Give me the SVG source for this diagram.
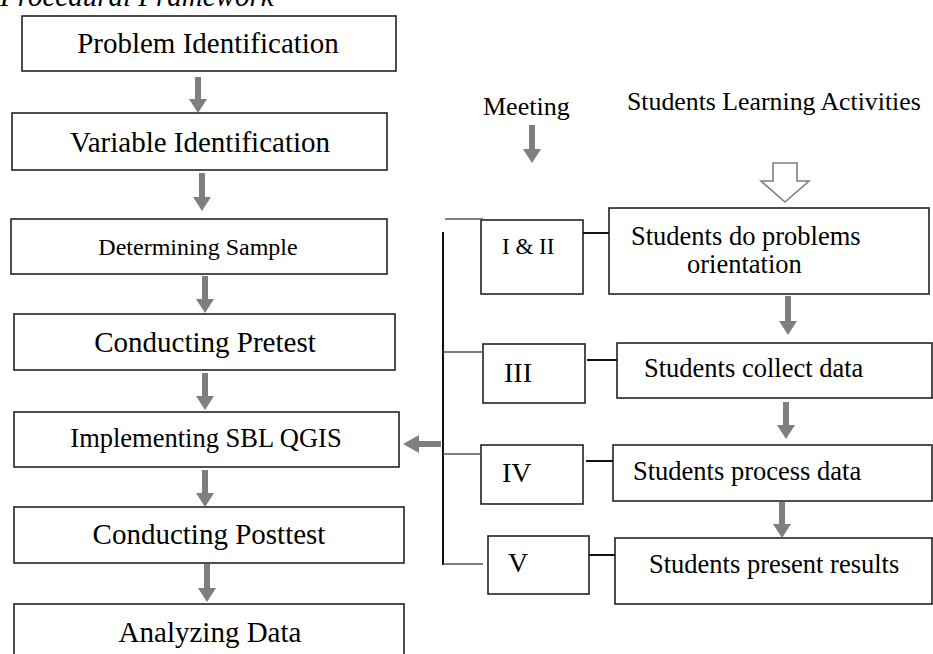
<svg xmlns="http://www.w3.org/2000/svg" width="933" height="654" viewBox="0 0 933 654">
  <style>
    text { font-family: "Liberation Serif", "Times New Roman", serif; fill: #000; }
    .box { fill: #fff; stroke: #222; stroke-width: 1.6; }
    .arrow { fill: #7f7f7f; stroke: none; }
    .hollow { fill: #fff; stroke: #7f7f7f; stroke-width: 1.6; }
    .line { stroke: #111; stroke-width: 2; fill: none; }
    .branch { stroke: #555; stroke-width: 1.4; fill: none; }
    .big { font-size: 29px; }
    .mid { font-size: 26.5px; }
    .sm { font-size: 24px; }
  </style>
  <rect width="933" height="654" fill="#fff"/>

  <!-- title, clipped at the top edge -->
  <text x="0" y="6" font-size="29" font-style="italic">Procedural Framework</text>

  <!-- procedure steps -->
  <g id="step-problem">
    <rect class="box" x="22" y="16" width="374" height="55"/>
    <text class="big" x="208" y="53" text-anchor="middle">Problem Identification</text>
  </g>
  <g id="step-variable">
    <rect class="box" x="12" y="113" width="375" height="57"/>
    <text class="big" x="200" y="152" text-anchor="middle">Variable Identification</text>
  </g>
  <g id="step-sample">
    <rect class="box" x="11" y="219" width="376" height="55"/>
    <text class="sm" x="198" y="255" text-anchor="middle">Determining Sample</text>
  </g>
  <g id="step-pretest">
    <rect class="box" x="14" y="314" width="381" height="56"/>
    <text class="big" x="205" y="352" text-anchor="middle">Conducting Pretest</text>
  </g>
  <g id="step-implement">
    <rect class="box" x="14" y="412" width="385" height="55"/>
    <text class="mid" x="206" y="447" text-anchor="middle">Implementing SBL QGIS</text>
  </g>
  <g id="step-posttest">
    <rect class="box" x="14" y="507" width="390" height="56"/>
    <text class="big" x="209" y="544" text-anchor="middle">Conducting Posttest</text>
  </g>
  <g id="step-analyze">
    <rect class="box" x="14" y="604" width="390" height="60"/>
    <text class="big" x="210" y="642" text-anchor="middle">Analyzing Data</text>
  </g>

  <!-- column headings -->
  <text x="483" y="115" font-size="26">Meeting</text>
  <text x="627" y="110" font-size="25.8">Students Learning Activities</text>

  <!-- meetings -->
  <g id="meeting-1-2">
    <rect class="box" x="481" y="220" width="102" height="74"/>
    <text x="502" y="254" font-size="23">I &amp; II</text>
  </g>
  <g id="meeting-3">
    <rect class="box" x="483" y="344" width="102" height="59"/>
    <text x="504" y="382" font-size="28">III</text>
  </g>
  <g id="meeting-4">
    <rect class="box" x="481" y="445" width="102" height="59"/>
    <text x="502" y="482" font-size="28">IV</text>
  </g>
  <g id="meeting-5">
    <rect class="box" x="488" y="536" width="101" height="58"/>
    <text x="508" y="572" font-size="28">V</text>
  </g>

  <!-- learning activities -->
  <g id="activity-orientation">
    <rect class="box" x="609" y="208" width="320" height="86"/>
    <text class="mid" x="631" y="245">Students do problems</text>
    <text class="mid" x="687" y="273">orientation</text>
  </g>
  <g id="activity-collect">
    <rect class="box" x="617" y="343" width="315" height="55"/>
    <text class="mid" x="644" y="377">Students collect data</text>
  </g>
  <g id="activity-process">
    <rect class="box" x="613" y="445" width="319" height="56"/>
    <text class="mid" x="633" y="480">Students process data</text>
  </g>
  <g id="activity-present">
    <rect class="box" x="615" y="538" width="317" height="66"/>
    <text class="mid" x="649" y="573">Students present results</text>
  </g>

  <g id="connectors">
    <!-- main flow arrows -->
    <path class="arrow" d="M195 77 H201 V99 H207 L198 113 L189 99 H195 Z"/>
    <path class="arrow" d="M199 173 H205 V197 H211 L202 211 L193 197 H199 Z"/>
    <path class="arrow" d="M202 276 H208 V299 H214 L205 313 L196 299 H202 Z"/>
    <path class="arrow" d="M202 373 H208 V396 H214 L205 410 L196 396 H202 Z"/>
    <path class="arrow" d="M202 470 H208 V493 H214 L205 507 L196 493 H202 Z"/>
    <path class="arrow" d="M204 564 H210 V588 H216 L207 602 L198 588 H204 Z"/>
    <!-- meetings feed the implementation step -->
    <path class="arrow" d="M441 441 V447 H419 V453 L403 444 L419 435 V441 Z"/>
    <!-- heading arrows -->
    <path class="arrow" d="M529 125 H535 V149 H541 L532 163 L523 149 H529 Z"/>
    <path class="hollow" d="M773 163 H797 V181 H809 L785 202 L761 181 H773 Z"/>
    <!-- activity sequence arrows -->
    <path class="arrow" d="M785 296 H791 V321 H797 L788 335 L779 321 H785 Z"/>
    <path class="arrow" d="M783 402 H789 V425 H795 L786 439 L777 425 H783 Z"/>
    <path class="arrow" d="M779 502 H785 V524 H791 L782 538 L773 524 H779 Z"/>
    <!-- meeting bracket -->
    <line class="branch" x1="445" y1="219" x2="483" y2="219"/>
    <line class="line" x1="443" y1="232" x2="443" y2="565"/>
    <line class="branch" x1="443" y1="352" x2="483" y2="352"/>
    <line class="branch" x1="443" y1="454" x2="481" y2="454"/>
    <line class="branch" x1="443" y1="564" x2="483" y2="564"/>
    <!-- meeting to activity links -->
    <line class="line" x1="583" y1="233" x2="609" y2="233"/>
    <line class="line" x1="587" y1="360" x2="617" y2="360"/>
    <line class="line" x1="586" y1="461" x2="613" y2="461"/>
    <line class="line" x1="589" y1="555" x2="615" y2="555"/>
  </g>
</svg>
